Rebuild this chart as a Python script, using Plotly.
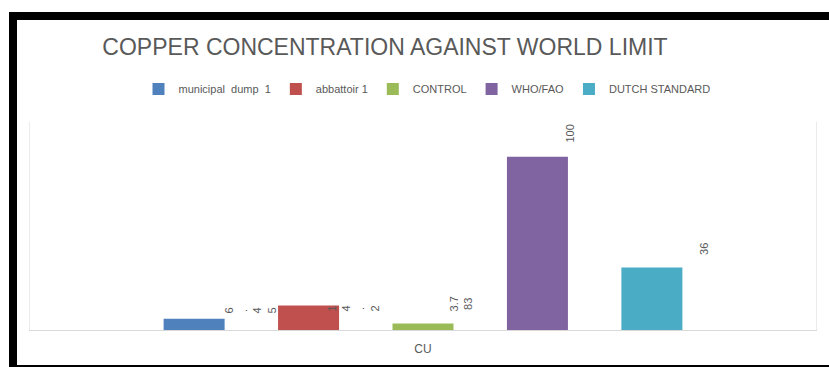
import plotly.graph_objects as go

# ---- data ----
categories = ["CU"]
series_names = ["municipal  dump  1", "abbattoir 1", "CONTROL", "WHO/FAO", "DUTCH STANDARD"]
series_values = [6.45, 14.2, 3.783, 100, 36]
label_texts = ["6<br>.<br>4<br>5", "1<br>4<br>.<br>2", "3.7<br>83", "100", "36"]

# ---- style ----
colors = ["#4F81BD", "#C0504D", "#9BBB59", "#8064A2", "#4BACC6"]
label_dx = [26, 14, 7, 2, 21]     # px offset of label centre from bar right edge
label_dy = [3, -8, 10, 12, 11]    # px gap between bar top and label bottom

W, H = 829, 367
ML, MR, MT, MB = 30, 13, 122, 37
PW = W - ML - MR
PH = H - MT - MB
BARGAP = 0.272
BARGROUPGAP = 0.467
GRAY = "#595959"
FONT = "Liberation Sans Narrow, Arial Narrow, Liberation Sans, sans-serif"

fig = go.Figure()
for name, val, col in zip(series_names, series_values, colors):
    fig.add_trace(go.Bar(x=categories, y=[val], name=name, marker_color=col,
                         marker_line_width=0))

slot = PW * (1 - BARGAP) / len(series_values)
bar_w = slot * (1 - BARGROUPGAP)
n = len(series_values)
for i, (val, txt) in enumerate(zip(series_values, label_texts)):
    fig.add_annotation(x=categories[0], y=val, text=txt, showarrow=False,
                       textangle=-90, xanchor="center", yanchor="bottom",
                       xshift=(i - (n - 1) / 2) * slot + bar_w / 2 + label_dx[i],
                       yshift=label_dy[i],
                       font=dict(family=FONT, size=11, color=GRAY))

def px(x):
    return (x - ML) / PW

def py(y):
    return (H - MB - y) / PH

# black frame (cropped border of original picture)
border = [(9, 12, 829, 20), (9, 12, 17, 367), (9, 365, 829, 367)]
for x0, y0, x1, y1 in border:
    fig.add_shape(type="rect", xref="paper", yref="paper",
                  x0=px(x0), x1=px(x1), y0=py(y1), y1=py(y0),
                  fillcolor="black", line_width=0, layer="above")

fig.update_layout(
    width=W, height=H,
    margin=dict(l=ML, r=MR, t=MT, b=MB),
    paper_bgcolor="white", plot_bgcolor="white",
    barmode="group", bargap=BARGAP, bargroupgap=BARGROUPGAP,
    title=dict(text="COPPER CONCENTRATION AGAINST WORLD LIMIT",
               x=385 / W, xanchor="center", y=1 - 47 / H, yanchor="middle",
               font=dict(family=FONT, size=23, color=GRAY)),
    legend=dict(orientation="h", x=427 / W, xanchor="center", xref="container",
                y=1 - 89 / H, yanchor="middle", yref="container",
                font=dict(family=FONT, size=11, color=GRAY),
                itemwidth=30, traceorder="normal"),
    showlegend=True,
    xaxis=dict(showline=True, linecolor="#D9D9D9", linewidth=1,
               ticks="", showgrid=False,
               tickfont=dict(family=FONT, size=12, color=GRAY),
               ticklabelstandoff=8),
    yaxis=dict(range=[0, 120], showticklabels=False, showgrid=False,
               zeroline=False, showline=True, mirror=True,
               linecolor="#EBEBEB", linewidth=1, ticks=""),
)

fig.write_html("out.html")
